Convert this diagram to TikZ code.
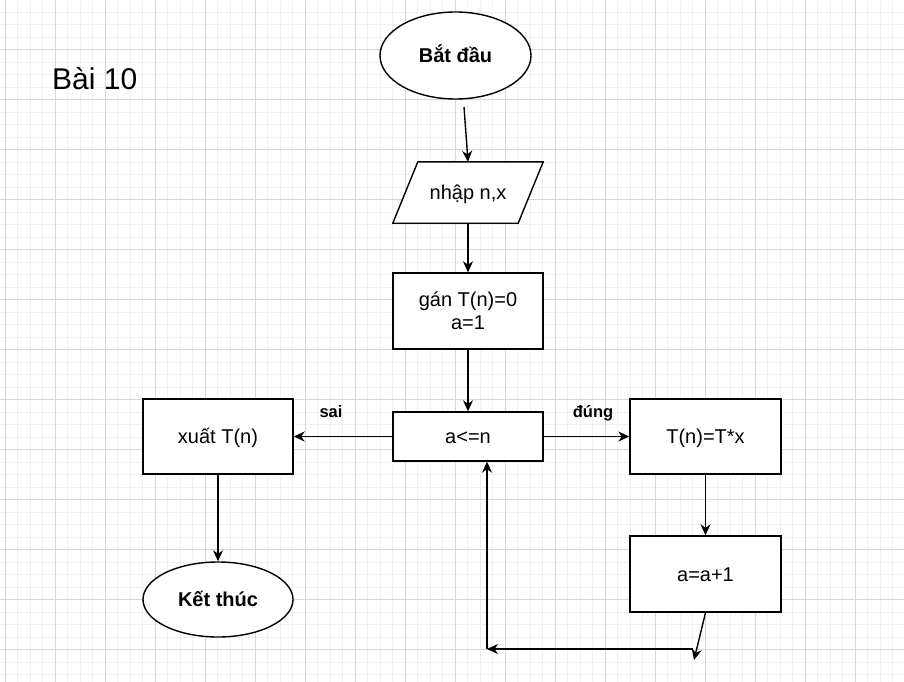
\documentclass[tikz,border=0pt]{standalone}
\usepackage{fontspec}
\setmainfont{Liberation Sans}
\usetikzlibrary{shapes.geometric,arrows.meta}
\definecolor{gridminor}{HTML}{F0F0F0}
\definecolor{gridmajor}{HTML}{D6D6D6}
\begin{document}
\begin{tikzpicture}[x=1pt,y=-1pt,
  txt/.style={font=\fontsize{20}{23}\selectfont, text height=18pt, text depth=4pt},
  box/.style={txt, draw=black, line width=1.4pt, fill=white, minimum width=150, minimum height=75, inner sep=0, align=center},
  oval/.style={box, ellipse, font=\bfseries\fontsize{20}{23}\selectfont},
  lbl/.style={font=\bfseries\fontsize{16.5}{19}\selectfont, anchor=base, inner sep=0},
  arr/.style={line width=1.4pt, -{Stealth[length=11pt,width=10pt,inset=3.5pt]}},
  gminor/.style={gridminor, line width=0.9pt},
  gmajor/.style={gridmajor, line width=1pt}
]
\useasboundingbox (0,0) rectangle (904,682);
\fill[white] (0,0) rectangle (904,682);
\begin{scope}
\clip (0,0) rectangle (904,682);
\foreach \k in {0,...,72} { \draw[gminor] ({5+12.5*\k},0) -- ({5+12.5*\k},682); }
\foreach \k in {1,...,54} { \draw[gminor] (0,{-0.5+12.5*\k}) -- (904,{-0.5+12.5*\k}); }
\foreach \k in {0,...,18} { \draw[gmajor] ({5+50*\k},0) -- ({5+50*\k},682); }
\foreach \k in {0,...,12} { \draw[gmajor] (0,{49.5+50*\k}) -- (904,{49.5+50*\k}); }
\end{scope}

\node[font=\fontsize{30}{34}\selectfont, anchor=base west, inner sep=0] (title) at (52,90) {Bài 10};

\node[oval, minimum width=151, minimum height=87] (start) at (455.5,55.5) {Bắt đầu};

\node[txt, minimum width=150, minimum height=61, inner sep=0] (nhap) at (468,192.5) {};
\draw[line width=1.4pt, fill=white] (nhap.south west) -- ([xshift=-25pt]nhap.south east) -- (nhap.north east) -- ([xshift=25pt]nhap.north west) -- cycle;
\node[txt, inner sep=0] at (nhap.center) {nhập n,x};

\node[box, minimum height=76, text height=, text depth=] (gan) at (468,311) {gán T(n)=0\\a=1};
\node[box, minimum height=49] (cond) at (468,436.5) {a<=n};
\node[box] (xuat) at (218,436.5) {xuất T(n)};
\node[box, minimum width=151] (tx) at (705.5,436.5) {T(n)=T*x};
\node[box, minimum width=151, minimum height=76] (inc) at (705.5,574) {a=a+1};
\node[oval] (kt) at (218,599.5) {Kết thúc};

\node[lbl] (sai) at (331,417) {sai};
\node[lbl] (dung) at (593,417) {đúng};

\coordinate (s1) at (464,107);
\coordinate (c1) at (694,660);
\coordinate (c2) at (693,649);
\coordinate (c3) at (487,649);

\draw[arr] (s1) -- (nhap.north);
\draw[arr] (nhap.south) -- (gan.north);
\draw[arr] (gan) -- (cond);
\draw[arr] (cond.west) -- (xuat.east);
\draw[arr] (cond.east) -- (tx.west);
\draw[arr] (tx) -- (inc);
\draw[arr] (inc.south) -- (c1);
\draw[arr] (c2) -- (c3);
\draw[arr] (c3) -- (c3 |- cond.south);
\draw[arr] (xuat) -- (kt);
\end{tikzpicture}
\end{document}
